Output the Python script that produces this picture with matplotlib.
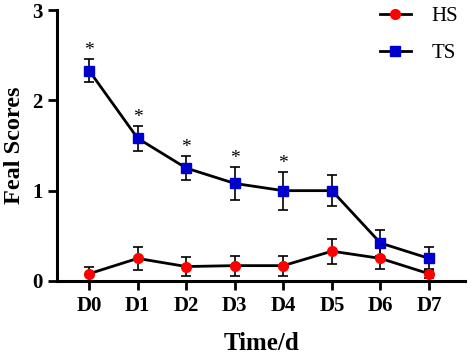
import matplotlib
matplotlib.use("Agg")
import matplotlib.pyplot as plt
from matplotlib.lines import Line2D
import numpy as np

days = ["D0", "D1", "D2", "D3", "D4", "D5", "D6", "D7"]
hs_mean = [0.08, 0.25, 0.16, 0.17, 0.17, 0.33, 0.25, 0.08]
hs_err = [0.08, 0.13, 0.11, 0.11, 0.11, 0.14, 0.12, 0.05]
ts_mean = [2.33, 1.58, 1.25, 1.08, 1.00, 1.00, 0.42, 0.25]
ts_err = [0.13, 0.14, 0.13, 0.18, 0.21, 0.17, 0.14, 0.13]
signif = ["*", "*", "*", "*", "*", "", "", ""]

plt.rcParams["font.family"] = ["Liberation Serif", "DejaVu Serif"]

fig = plt.figure(figsize=(4.68, 3.56), dpi=100)
ax = fig.add_axes([0.1218, 0.2107, 0.8718, 0.7612])

hs_col = "#ff0000"
ts_col = "#0000cc"
x = np.arange(len(days))
ax.errorbar(x, hs_mean, yerr=hs_err, color="black", lw=2, marker="o",
            markersize=7, markerfacecolor=hs_col, markeredgecolor=hs_col,
            ecolor="black", elinewidth=1.2, capsize=3.5, capthick=1.2, zorder=3)
ax.errorbar(x, ts_mean, yerr=ts_err, color="black", lw=2, marker="s",
            markersize=7, markerfacecolor=ts_col, markeredgecolor=ts_col,
            ecolor="black", elinewidth=1.2, capsize=3.5, capthick=1.2, zorder=3)

for xi, m, e, s in zip(x, ts_mean, ts_err, signif):
    if s:
        ax.text(xi, m + e + 0.0, s, ha="center", va="bottom", fontsize=14)

ax.set_xlim(-0.66, 7.74)
ax.set_ylim(0, 3)
ax.set_xticks(x)
ax.set_xticklabels(days)
ax.set_yticks([0, 1, 2, 3])

for side in ["top", "right"]:
    ax.spines[side].set_visible(False)
for side in ["left", "bottom"]:
    ax.spines[side].set_linewidth(2.2)
ax.tick_params(axis="both", direction="out", length=6.5, width=2,
               labelsize=15, pad=4)
for lab in ax.get_xticklabels() + ax.get_yticklabels():
    lab.set_fontweight("bold")

ax.set_xlabel("Time/d", fontsize=18, fontweight="bold", labelpad=12)
ax.set_ylabel("Feal Scores", fontsize=17.5, fontweight="bold", labelpad=5)

handles = [
    Line2D([], [], color="black", lw=2, marker="o", markersize=7,
           markerfacecolor=hs_col, markeredgecolor=hs_col),
    Line2D([], [], color="black", lw=2, marker="s", markersize=7,
           markerfacecolor=ts_col, markeredgecolor=ts_col),
]
ax.legend(handles, ["HS", "TS"], loc="upper right", frameon=False, fontsize=15,
          labelspacing=0.85, handlelength=1.5, handletextpad=1.0,
          bbox_to_anchor=(1.03, 1.083))

fig.savefig("out.png", dpi=100)
